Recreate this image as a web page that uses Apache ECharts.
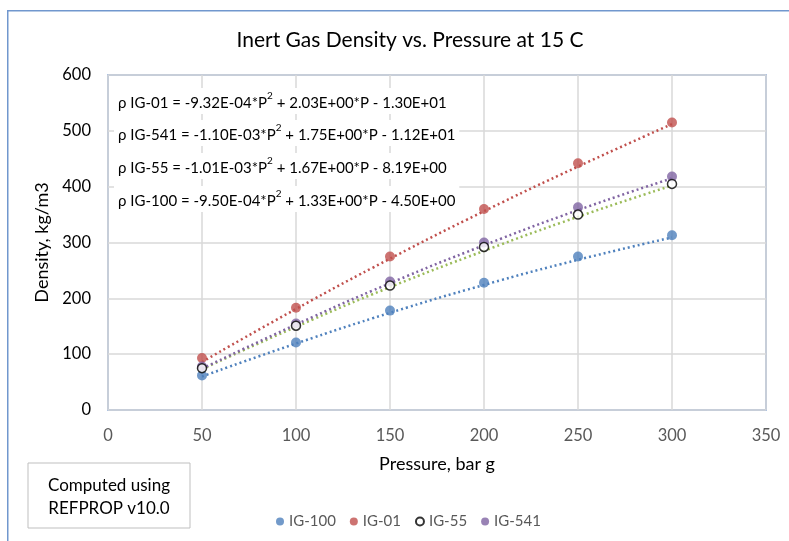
<!DOCTYPE html>
<html>
<head>
<meta charset="utf-8">
<script src="https://cdn.jsdelivr.net/npm/echarts@6/dist/echarts.min.js"></script>
<style>html,body{margin:0;padding:0;background:#fff;}#c{width:789px;height:541px;}</style>
</head>
<body>
<div id="c"></div>
<script>
// ---- data ----
const pressure = [50, 100, 150, 200, 250, 300];
const ig100 = [62, 121, 178, 228, 275, 313];
const ig01  = [93, 183, 275, 360, 442, 515];
const ig55  = [75, 151, 223, 292, 350, 405];
const ig541 = [78, 155, 230, 300, 363, 418];
// polynomial trend values (as drawn, dotted)
const trend100 = [60, 119, 174, 224, 269, 309];
const trend01  = [86, 181, 271, 356, 436, 512];
const trend55  = [73, 149, 220, 285, 346, 402];
const trend541 = [74, 153, 227, 295, 358, 415];
const xTicks = [0, 50, 100, 150, 200, 250, 300, 350];
const yTicks = [0, 100, 200, 300, 400, 500, 600];
const equations = [
  ['ρ IG-01 = -9.32E-04*P', ' + 2.03E+00*P - 1.30E+01'],
  ['ρ IG-541 = -1.10E-03*P', ' + 1.75E+00*P - 1.12E+01'],
  ['ρ IG-55 = -1.01E-03*P', ' + 1.67E+00*P - 8.19E+00'],
  ['ρ IG-100 = -9.50E-04*P', ' + 1.33E+00*P - 4.50E+00']
];
const titleText = 'Inert Gas Density vs. Pressure at 15 C';
const noteText = 'Computed using\nREFPROP v10.0';

const FONT = 'Lato, "Open Sans", sans-serif';
const C_BLUE = '#4F81BD', C_RED = '#C0504D', C_PURP = '#8064A2', C_GREEN = '#9BBB59';

function pairs(ys) { return pressure.map((x, i) => [x, ys[i]]); }

const chart = echarts.init(document.getElementById('c'), null, {renderer: 'canvas'});

const eqY = [101, 133, 166, 199];
const eqGraphics = equations.map((e, i) => ({
  type: 'text', x: 114, y: eqY[i] - 13, z: 50,
  style: {
    text: '{a|' + e[0] + '}{s|2}{a|' + e[1] + '}',
    rich: {
      a: {fontFamily: FONT, fontSize: 15, fill: '#000', verticalAlign: 'bottom', lineHeight: 20},
      s: {fontFamily: FONT, fontSize: 10, fill: '#000', verticalAlign: 'top', lineHeight: 20, padding: [0, 0, 9, 0]}
    },
    backgroundColor: '#fff', padding: [3, 4]
  }
}));

chart.setOption({
  animation: false,
  backgroundColor: '#fff',
  title: {
    text: titleText, left: 405, top: 25, textAlign: 'center',
    textStyle: {fontFamily: FONT, fontSize: 21, fontWeight: 'normal', color: '#000'}
  },
  grid: {left: 108, top: 75, right: 23, bottom: 131, show: true, borderColor: '#7197CE', borderWidth: 1.5, backgroundColor: 'transparent', containLabel: false},
  xAxis: {
    type: 'value', min: 0, max: 350, interval: 50,
    name: 'Pressure, bar g', nameLocation: 'middle', nameGap: 45,
    nameTextStyle: {fontFamily: FONT, fontSize: 18, color: '#000'},
    axisLine: {show: false}, axisTick: {show: false},
    axisLabel: {fontFamily: FONT, fontSize: 16.5, color: '#595959', margin: 17, showMaxLabel: true},
    splitLine: {show: true, lineStyle: {color: '#D9D9D9', width: 1.5}}
  },
  yAxis: {
    type: 'value', min: 0, max: 600, interval: 100,
    name: 'Density, kg/m3', nameLocation: 'middle', nameGap: 51, nameRotate: 90,
    nameTextStyle: {fontFamily: FONT, fontSize: 18, color: '#000'},
    axisLine: {show: false}, axisTick: {show: false},
    axisLabel: {fontFamily: FONT, fontSize: 16.5, color: '#000', margin: 17},
    splitLine: {show: true, lineStyle: {color: '#D9D9D9', width: 1.5}}
  },
  legend: {
    data: ['IG-100', 'IG-01', 'IG-55', 'IG-541'],
    left: 271, top: 509, itemWidth: 8, itemHeight: 8, itemGap: 14,
    icon: 'circle',
    textStyle: {fontFamily: FONT, fontSize: 15, color: '#595959', padding: [0, 0, 0, 0]}
  },
  series: [
    {name: 'trend100', type: 'line', data: pairs(trend100), symbol: 'none', smooth: true, lineStyle: {color: C_BLUE, width: 2.5, type: [2, 3]}, z: 2, silent: true},
    {name: 'trend01', type: 'line', data: pairs(trend01), symbol: 'none', smooth: true, lineStyle: {color: C_RED, width: 2.5, type: [2, 3]}, z: 2, silent: true},
    {name: 'trend55', type: 'line', data: pairs(trend55), symbol: 'none', smooth: true, lineStyle: {color: C_GREEN, width: 2.5, type: [2, 3]}, z: 2, silent: true},
    {name: 'trend541', type: 'line', data: pairs(trend541), symbol: 'none', smooth: true, lineStyle: {color: C_PURP, width: 2.5, type: [2, 3]}, z: 2, silent: true},
    {name: 'IG-100', type: 'scatter', data: pairs(ig100), symbolSize: 10, itemStyle: {color: C_BLUE}, z: 5},
    {name: 'IG-01', type: 'scatter', data: pairs(ig01), symbolSize: 10, itemStyle: {color: C_RED}, z: 5},
    {name: 'IG-55', type: 'scatter', data: pairs(ig55), symbolSize: 9, itemStyle: {color: '#fff', borderColor: '#000', borderWidth: 1.5}, z: 6},
    {name: 'IG-541', type: 'scatter', data: pairs(ig541), symbolSize: 10, itemStyle: {color: C_PURP}, z: 5}
  ],
  graphic: [
    {type: 'rect', left: 7, top: 10, z: -10, silent: true,
     shape: {width: 800, height: 560}, style: {fill: 'transparent', stroke: '#7197CE', lineWidth: 1.5}},
    ...eqGraphics,
    {type: 'rect', x: 28, y: 463, z: 20,
     shape: {width: 162, height: 65}, style: {fill: '#fff', stroke: '#BFBFBF', lineWidth: 1}},
    {type: 'text', x: 109, y: 474, z: 21,
     style: {text: noteText, fontFamily: FONT, fontSize: 17, fill: '#000', align: 'center', verticalAlign: 'top', lineHeight: 23}}
  ]
});
</script>
</body>
</html>
